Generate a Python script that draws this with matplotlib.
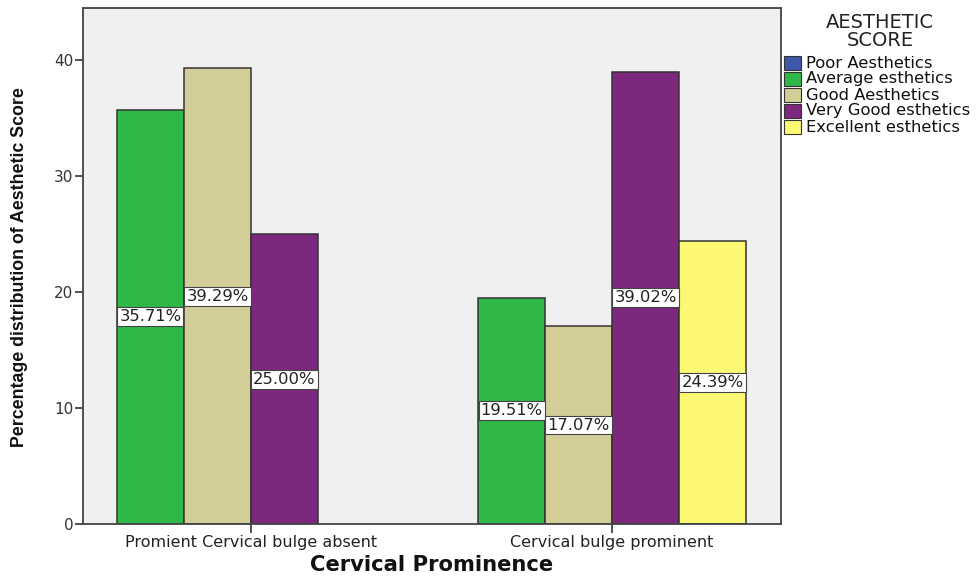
import numpy as np
import matplotlib
matplotlib.use("Agg")
import matplotlib.pyplot as plt
from matplotlib.patches import Rectangle

# data
groups = ["Promient Cervical bulge absent", "Cervical bulge prominent"]
scores = ["Poor Aesthetics", "Average esthetics", "Good Aesthetics",
          "Very Good esthetics", "Excellent esthetics"]
colors = ["#3E58AC", "#2EB848", "#D3CE97", "#7C287D", "#FBF873"]
average = [35.71, 19.51]
good = [39.29, 17.07]
very_good = [25.00, 39.02]
excellent = [0.0, 24.39]
bar_series = [average, good, very_good, excellent]

plt.rcParams["font.family"] = ["DejaVu Sans"]

W, H = 979, 576
fig = plt.figure(figsize=(W / 100, H / 100), dpi=100)
ax = fig.add_axes([83 / W, 1 - 524 / H, 698 / W, 516 / H])
ax.set_facecolor("#F0F0F0")

x = np.arange(len(groups))
w = 0.1855
for i, vals in enumerate(bar_series):
  offs = (i - 1.5) * w
  for j, v in enumerate(vals):
    if v <= 0:
      continue
    ax.bar(x[j] + offs, v, w, color=colors[i + 1], edgecolor="#333333", linewidth=1.1, zorder=2)
    # value label in the middle of the bar
    ax.text(x[j] + offs, v / 2, "%.2f%%" % v, ha="center", va="center", fontsize=11.8,
            color="#222222", zorder=3,
            bbox=dict(boxstyle="square,pad=0.12", fc="white", ec="#444444", lw=0.8))

ax.set_xlim(-0.465, 1.468)
ax.set_ylim(0, 44.5)
ax.set_yticks([0, 10, 20, 30, 40])
ax.set_xticks(x)
ax.set_xticklabels(groups)
ax.tick_params(axis="y", length=6, width=1.2, colors="#333333", labelsize=11,
               labelcolor="#333333", pad=1)
ax.tick_params(axis="x", length=6.5, width=1.2, colors="#333333", labelsize=11.5,
               labelcolor="#222222", pad=1.5)
for s in ax.spines.values():
  s.set_color("#444444")
  s.set_linewidth(1.3)

# axis titles
fig.text(20 / W, 1 - 267 / H, "Percentage distribution of Aesthetic Score", rotation=90,
         ha="center", va="center", fontsize=12.8, fontweight="bold", family="Liberation Sans",
         color="#111111")
fig.text(432 / W, 5 / H, "Cervical Prominence", ha="center", va="baseline",
         fontsize=15.2, fontweight="bold", color="#111111")

# legend on the right
fig.text(880 / W, 1 - 22 / H, "AESTHETIC", ha="center", va="center", fontsize=14, color="#222222")
fig.text(880 / W, 1 - 40 / H, "SCORE", ha="center", va="center", fontsize=14, color="#222222")
for k, (lab, c) in enumerate(zip(scores, colors)):
  yc = 63 + 16 * k
  fig.patches.append(Rectangle((784 / W, 1 - (yc + 7) / H), 17 / W, 14 / H,
                               transform=fig.transFigure, fc=c, ec="#333333", lw=0.8))
  fig.text(806 / W, 1 - yc / H, lab, ha="left", va="center", fontsize=11.8, color="#111111")

fig.savefig("out.png", dpi=100)
